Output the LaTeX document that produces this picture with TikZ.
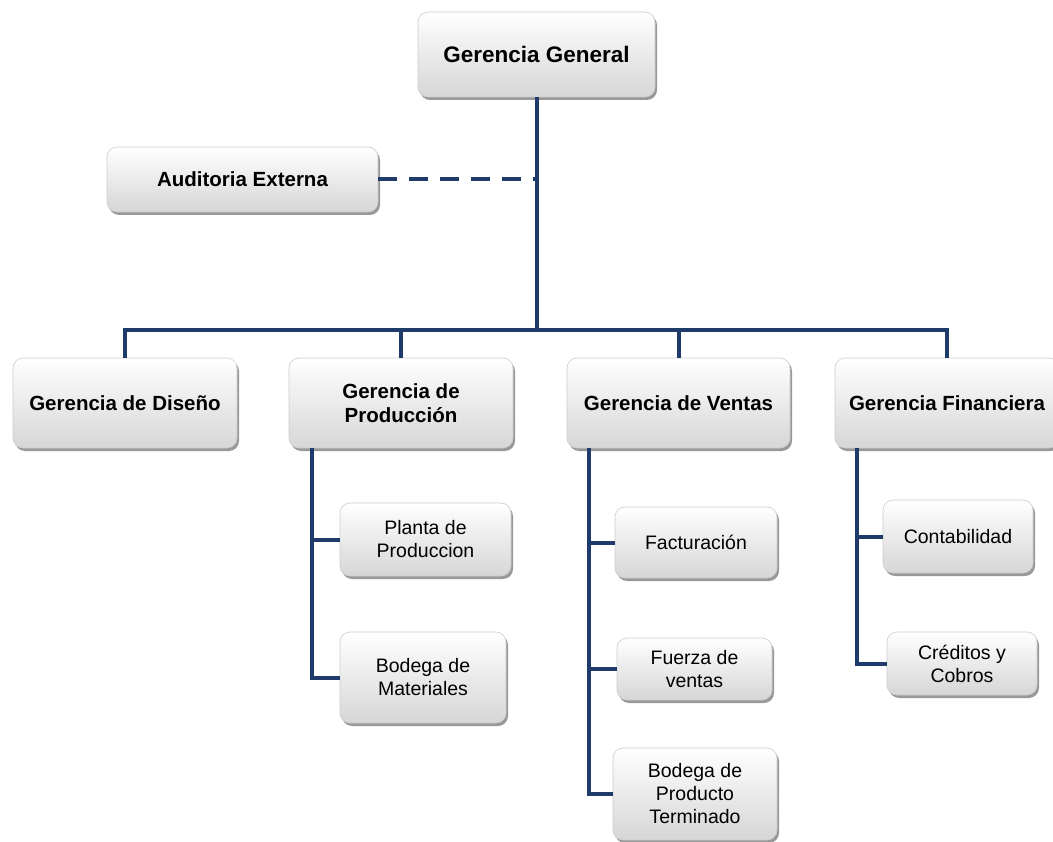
\documentclass[tikz,border=0pt]{standalone}
\usepackage{fontspec}
\setmainfont{Liberation Sans}
\usetikzlibrary{positioning, calc, shadows}
\definecolor{orgblue}{HTML}{1F3B6B}
\tikzset{
  box/.style={rectangle, rounded corners=10pt, draw=gray!40, line width=0.6pt,
    top color=white, bottom color=gray!32, align=center, inner sep=2pt,
    drop shadow={shadow xshift=2pt, shadow yshift=-3pt, opacity=0.4, fill=black}},
  dims/.style 2 args={minimum width=#1pt, minimum height=#2pt},
  headbox/.style={box, font=\fontsize{20.5}{24}\selectfont\bfseries},
  subbox/.style={box, font=\fontsize{19.5}{23}\selectfont},
  link/.style={orgblue, line width=4pt},
}

\begin{document}
\begin{tikzpicture}[x=1pt, y=-1pt]
    \fill[white] (0,0) rectangle (1053,842);
    \useasboundingbox (0,0) rectangle (1053,842);
    % boxes
    \node[headbox, dims={237}{85}, font=\fontsize{22.5}{26}\selectfont\bfseries] (gg) at (536.5,54.5) {Gerencia General};
    \node[headbox, dims={271}{65}] (aud) at (242.5,179.5) {Auditoria Externa};
    \node[headbox, dims={224}{90}] (dis) at (125,403) {Gerencia de Diseño};
    \node[headbox, dims={224}{90}] (pro) at (401,403) {Gerencia de\\Producción};
    \node[headbox, dims={223}{90}] (ven) at (678.5,403) {Gerencia de Ventas};
    \node[headbox, dims={224}{90}] (fin) at (947,403) {Gerencia Financiera};
    \node[subbox, dims={171}{73}] (pla) at (425.5,539.5) {Planta de\\Produccion};
    \node[subbox, dims={166}{91}] (bmat) at (423,677.5) {Bodega de\\Materiales};
    \node[subbox, dims={162}{71}] (fac) at (696,542.5) {Facturación};
    \node[subbox, dims={155}{62}] (fue) at (694.5,669) {Fuerza de\\ventas};
    \node[subbox, dims={164}{92}] (bpt) at (695,794) {Bodega de\\Producto\\Terminado};
    \node[subbox, dims={150}{73}] (con) at (958,536.5) {Contabilidad};
    \node[subbox, dims={150}{63}] (cre) at (962,663.5) {Créditos y\\Cobros};
    % main tree
    \coordinate (bar) at (536.5,330);
    \draw[link] (gg.south) -- (bar);
    \draw[link, dash pattern=on 19pt off 12pt] (aud.east) -- (aud.east -| gg.south);
    \draw[link] (dis.north) -- (dis.north |- bar) -- (fin.north |- bar) -- (fin.north);
    \draw[link] (pro.north) -- (pro.north |- bar);
    \draw[link] (ven.north) -- (ven.north |- bar);
    % branches
    \coordinate (prot) at ([xshift=23pt]pro.south west);
    \coordinate (vent) at ([xshift=22pt]ven.south west);
    \coordinate (fint) at ([xshift=22pt]fin.south west);
    \draw[link] (prot) |- (bmat.west);
    \draw[link] (prot |- pla.west) -- (pla.west);
    \draw[link] (vent) |- (bpt.west);
    \draw[link] (vent |- fac.west) -- (fac.west);
    \draw[link] (vent |- fue.west) -- (fue.west);
    \draw[link] (fint) |- (cre.west);
    \draw[link] (fint |- con.west) -- (con.west);
\end{tikzpicture}
\end{document}
